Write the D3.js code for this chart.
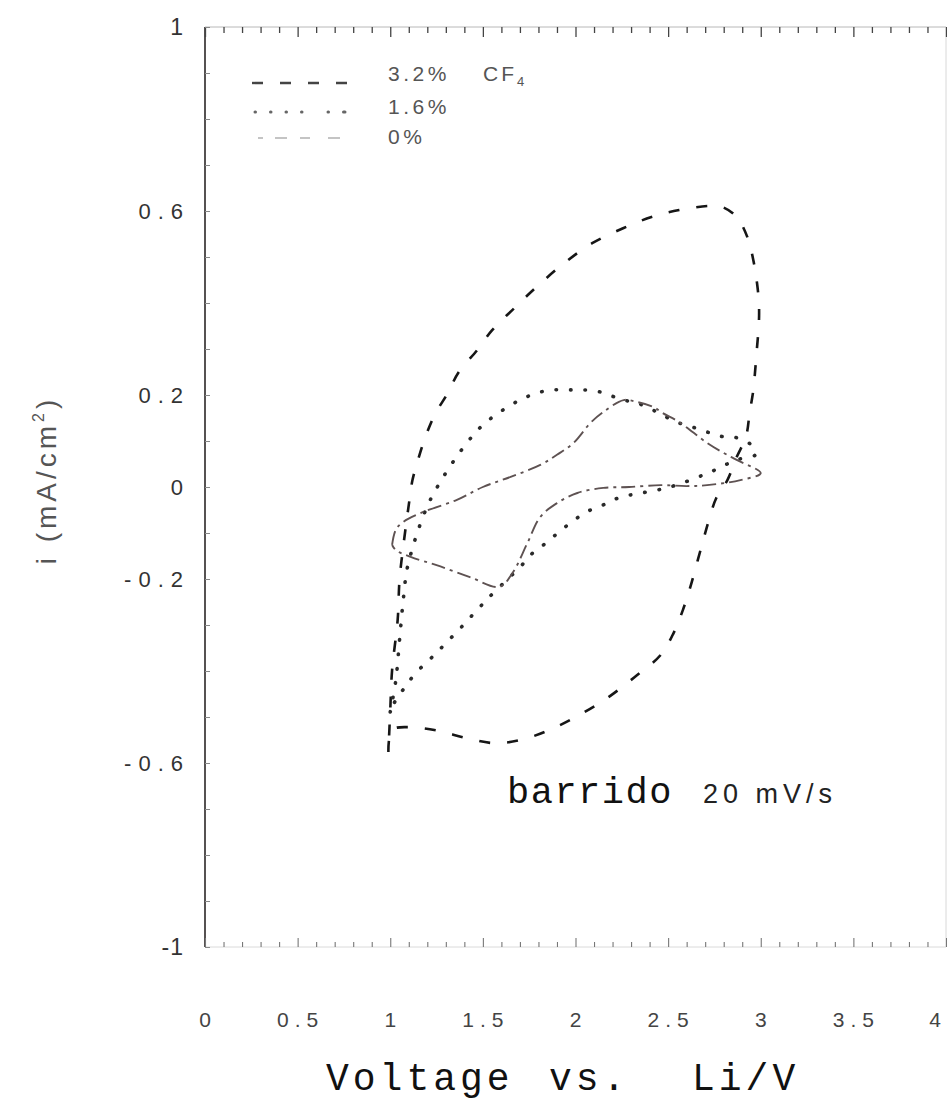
<!DOCTYPE html>
<html>
<head>
<meta charset="utf-8">
<script src="https://cdn.jsdelivr.net/npm/d3@7"></script>
<style>
  html, body { margin: 0; padding: 0; background: #fff; }
  svg { display: block; }
</style>
</head>
<body>
<svg id="chart" width="947" height="1104"></svg>
<script>
// Cyclic voltammograms, 20 mV/s sweep, for three CF4 contents.
// Each loop is listed as [voltage (V vs Li), current density (mA/cm2)].

const seriesNames = ["3.2%", "1.6%", "0%"];

const cf4_32 = [
  [0.99,-0.576],[1.01,-0.528],[1.10,-0.522],[1.26,-0.530],[1.41,-0.546],[1.57,-0.557],
  [1.72,-0.548],[1.86,-0.528],[2.01,-0.498],[2.17,-0.459],[2.32,-0.413],[2.46,-0.365],
  [2.53,-0.317],[2.58,-0.267],[2.62,-0.217],[2.66,-0.159],[2.69,-0.115],[2.72,-0.072],
  [2.76,-0.024],[2.82,0.015],[2.87,0.065],[2.92,0.109],[2.94,0.161],[2.96,0.211],
  [2.97,0.254],[2.98,0.304],[2.99,0.357],[2.99,0.400],[2.98,0.443],[2.96,0.493],
  [2.93,0.541],[2.87,0.587],[2.79,0.609],[2.72,0.611],[2.56,0.602],[2.41,0.587],
  [2.26,0.563],[2.09,0.530],[1.94,0.487],[1.79,0.435],[1.67,0.389],[1.55,0.341],
  [1.47,0.298],[1.37,0.250],[1.31,0.204],[1.24,0.157],[1.19,0.109],[1.15,0.059],
  [1.12,0.015],[1.10,-0.039],[1.07,-0.130],[1.05,-0.202],[1.04,-0.289],[1.01,-0.398],
  [1.00,-0.485],[0.99,-0.576]
];

const cf4_16 = [
  [1.00,-0.489],[1.03,-0.420],[1.05,-0.333],[1.07,-0.246],[1.09,-0.180],[1.12,-0.133],
  [1.16,-0.083],[1.21,-0.033],[1.27,0.011],[1.35,0.061],[1.44,0.109],[1.50,0.135],
  [1.57,0.157],[1.65,0.178],[1.72,0.193],[1.79,0.204],[1.87,0.211],[1.95,0.211],
  [2.02,0.211],[2.11,0.209],[2.18,0.200],[2.26,0.189],[2.33,0.183],[2.42,0.167],
  [2.49,0.152],[2.56,0.139],[2.65,0.128],[2.73,0.117],[2.80,0.109],[2.87,0.107],
  [2.95,0.091],[2.97,0.070],[2.87,0.059],[2.73,0.033],[2.51,0.000],[2.23,-0.024],
  [2.15,-0.039],[2.06,-0.054],[1.98,-0.076],[1.91,-0.098],[1.84,-0.122],[1.77,-0.143],
  [1.71,-0.170],[1.53,-0.241],[1.47,-0.267],[1.41,-0.293],[1.36,-0.315],[1.30,-0.339],
  [1.25,-0.361],[1.19,-0.383],[1.12,-0.413],[1.08,-0.435],[1.03,-0.463],[1.00,-0.489]
];

const cf4_0 = [
  [1.01,-0.126],[1.03,-0.093],[1.07,-0.076],[1.18,-0.054],[1.36,-0.028],[1.50,0.000],
  [1.65,0.022],[1.81,0.048],[1.90,0.070],[1.99,0.096],[2.08,0.139],[2.15,0.163],
  [2.26,0.189],[2.33,0.185],[2.42,0.174],[2.47,0.161],[2.56,0.141],[2.71,0.096],
  [2.80,0.074],[2.87,0.059],[3.00,0.030],[2.89,0.015],[2.71,0.004],[2.60,0.002],
  [2.46,0.004],[2.29,0.000],[2.15,-0.002],[2.01,-0.013],[1.90,-0.035],[1.81,-0.065],
  [1.74,-0.122],[1.66,-0.187],[1.59,-0.217],[1.43,-0.196],[1.25,-0.170],[1.11,-0.152],
  [1.03,-0.137],[1.01,-0.126]
];

const xTickValues = [0, 0.5, 1, 1.5, 2, 2.5, 3, 3.5, 4];
const xTickLabels = ["0", "0.5", "1", "1.5", "2", "2.5", "3", "3.5", "4"];
const yTickValues = [1, 0.6, 0.2, 0, -0.2, -0.6, -1];
const yTickLabels = ["1", "0.6", "0.2", "0", "-0.2", "-0.6", "-1"];

const svg = d3.select("#chart");
const sans = "Liberation Sans, Arial, sans-serif";
const mono = "Liberation Mono, Courier New, monospace";

// Plot frame
const frame = { left: 205, right: 946, top: 27, bottom: 947 };
const x = d3.scaleLinear().domain([0, 4]).range([frame.left, frame.right]);
const y = d3.scaleLinear().domain([-1, 1]).range([frame.bottom, frame.top]);

// frame lines
svg.append("line").attr("x1", frame.left).attr("x2", frame.left).attr("y1", frame.top).attr("y2", frame.bottom)
  .attr("stroke", "#2b2626").attr("stroke-width", 1.6);
svg.append("line").attr("x1", frame.left).attr("x2", frame.right).attr("y1", frame.top).attr("y2", frame.top)
  .attr("stroke", "#b0b0b0").attr("stroke-width", 0.9);
svg.append("line").attr("x1", frame.left).attr("x2", frame.right).attr("y1", frame.bottom).attr("y2", frame.bottom)
  .attr("stroke", "#d0d0d0").attr("stroke-width", 0.8);
svg.append("line").attr("x1", frame.right).attr("x2", frame.right).attr("y1", frame.top).attr("y2", frame.bottom)
  .attr("stroke", "#d8d8d8").attr("stroke-width", 1);

// minor / major ticks along top and bottom edges (inward)
const xMinor = d3.range(0, 41).map(k => k / 10);
const gTop = svg.append("g").attr("transform", `translate(0,${frame.top})`)
  .call(d3.axisTop(x).tickValues(xMinor).tickSize(-6).tickFormat(""));
gTop.select(".domain").remove();
gTop.selectAll(".tick line").attr("stroke", "#444").attr("stroke-width", 1.3)
  .attr("y2", (d, i) => (i % 5 === 0 ? 10 : 6));

const gBot = svg.append("g").attr("transform", `translate(0,${frame.bottom})`)
  .call(d3.axisBottom(x).tickValues(xMinor).tickSize(-6).tickFormat(""));
gBot.select(".domain").remove();
gBot.selectAll(".tick line").attr("stroke", "#777").attr("stroke-width", 1.1)
  .attr("y2", (d, i) => (i % 5 === 0 ? -9 : -5));

// left ticks
const yMinor = d3.range(-10, 11).map(k => k / 10);
const gLeft = svg.append("g").attr("transform", `translate(${frame.left},0)`)
  .call(d3.axisLeft(y).tickValues(yMinor).tickSize(-5).tickFormat(""));
gLeft.select(".domain").remove();
gLeft.selectAll(".tick line").attr("stroke", "#888").attr("stroke-width", 1);

// y tick labels (letter-spacing also trails the last glyph, so shift by it)
const yLs = d => (Math.abs(d) === 1 ? 1 : 7);
svg.append("g").selectAll("text").data(yTickValues).join("text")
  .attr("x", d => 183 + yLs(d))
  .attr("y", d => y(d))
  .attr("dy", "0.36em")
  .attr("text-anchor", "end")
  .attr("font-family", sans)
  .attr("font-size", d => (Math.abs(d) === 1 ? 23 : 22))
  .attr("letter-spacing", yLs)
  .attr("fill", "#333")
  .text((d, i) => yTickLabels[i]);

// x tick labels (the last one is held inside the page edge)
svg.append("g").selectAll("text").data(xTickValues).join("text")
  .attr("x", d => (d < 4 ? x(d) + 3 : 947))
  .attr("y", 1027)
  .attr("text-anchor", d => (d < 4 ? "middle" : "end"))
  .attr("font-family", sans)
  .attr("font-size", 21)
  .attr("letter-spacing", 6)
  .attr("fill", "#444")
  .text((d, i) => xTickLabels[i]);

// axis titles
svg.append("text")
  .attr("transform", "translate(56,480) rotate(-90)")
  .attr("text-anchor", "middle")
  .attr("font-family", sans)
  .attr("font-size", 28)
  .attr("letter-spacing", 4)
  .attr("fill", "#555")
  .call(t => {
    t.append("tspan").text("i (mA/cm");
    t.append("tspan").attr("dy", -12).attr("font-size", 16).text("2");
    t.append("tspan").attr("dy", 12).text(")");
  });

const xTitle = [["Voltage", 326], ["vs.", 549], ["Li/V", 692]];
svg.append("g").selectAll("text").data(xTitle).join("text")
  .attr("x", d => d[1]).attr("y", 1090)
  .attr("font-family", mono)
  .attr("font-size", 38)
  .attr("letter-spacing", 4)
  .attr("fill", "#111")
  .text(d => d[0]);

// sweep-rate note
svg.append("text")
  .attr("x", 507).attr("y", 803)
  .attr("font-family", mono)
  .attr("font-size", 37)
  .attr("letter-spacing", 1.5)
  .attr("fill", "#111")
  .text("barrido");
svg.append("text")
  .attr("x", 703).attr("y", 803)
  .attr("font-family", sans)
  .attr("font-size", 27)
  .attr("letter-spacing", 5)
  .attr("fill", "#222")
  .text("20 mV/s");

// curves
const line = d3.line().x(d => x(d[0])).y(d => y(d[1])).curve(d3.curveCatmullRom.alpha(0.5));

const styles = [
  { data: cf4_32, stroke: "#161616", width: 2.6, dash: "11 17", cap: "butt" },
  { data: cf4_16, stroke: "#2a2a2a", width: 3.6, dash: "0.5 14", cap: "round" },
  { data: cf4_0,  stroke: "#5e5252", width: 1.9, dash: "14 5 3 5", cap: "butt" }
];

svg.append("g").selectAll("path").data(styles).join("path")
  .attr("d", s => line(s.data))
  .attr("fill", "none")
  .attr("stroke", s => s.stroke)
  .attr("stroke-width", s => s.width)
  .attr("stroke-dasharray", s => s.dash)
  .attr("stroke-linecap", s => s.cap);

// legend
const legendRows = [
  { y: 81, lineY: 83, x1: 252, x2: 347, color: "#444", width: 2.4, dash: "11 17", cap: "butt" },
  { y: 114, lineY: 112, x1: 255, x2: 345, color: "#666", width: 3, dash: "0.5 15 0.5 15 0.5 15 0.5 26 0.5 15 0.5", cap: "round" },
  { y: 144, lineY: 138, x1: 258, x2: 342, color: "#c4c4c4", width: 2, dash: "5 12 12 13 10 18 12", cap: "butt" }
];
const lg = svg.append("g");
legendRows.forEach((r, k) => {
  lg.append("line")
    .attr("x1", r.x1).attr("x2", r.x2).attr("y1", r.lineY).attr("y2", r.lineY)
    .attr("stroke", r.color)
    .attr("stroke-width", r.width)
    .attr("stroke-dasharray", r.dash)
    .attr("stroke-linecap", r.cap);
  lg.append("text")
    .attr("x", 388).attr("y", r.y)
    .attr("font-family", sans)
    .attr("font-size", 21)
    .attr("letter-spacing", 3.5)
    .attr("fill", "#555")
    .text(seriesNames[k]);
});
// gas name beside the first entry
lg.append("text")
  .attr("x", 483).attr("y", 81)
  .attr("font-family", sans)
  .attr("font-size", 21)
  .attr("letter-spacing", 3)
  .attr("fill", "#555")
  .call(t => {
    t.append("tspan").text("CF");
    t.append("tspan").attr("dy", 5).attr("font-size", 13).text("4");
  });
</script>
</body>
</html>
